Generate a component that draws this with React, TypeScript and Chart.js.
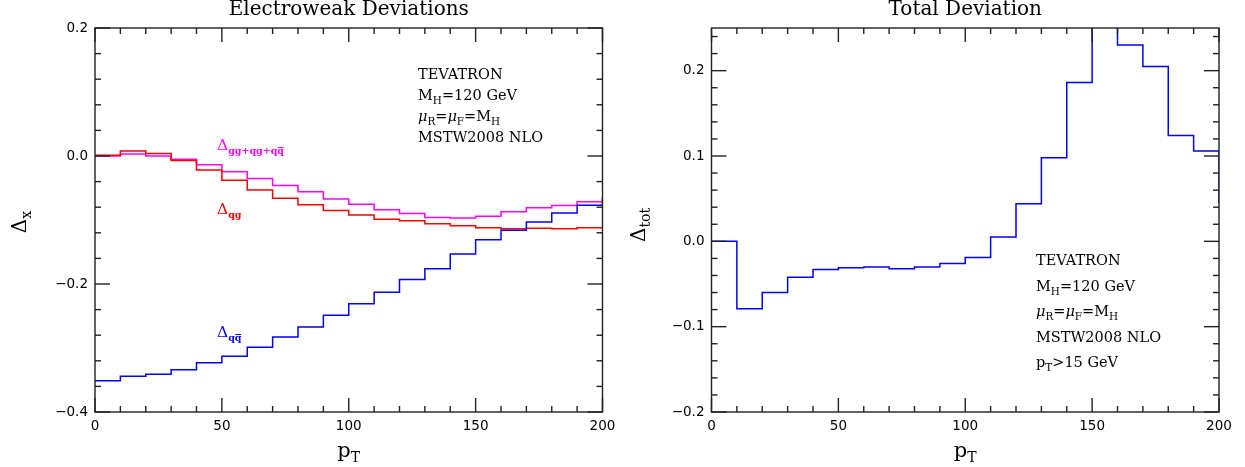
import React, { useEffect, useRef } from 'react';
import { Chart, registerables } from 'chart.js';

Chart.register(...registerables);

// ---- data (bin left edges in GeV; last entry = overflow bin 200-210, clipped) ----
const binStarts = [0, 10, 20, 30, 40, 50, 60, 70, 80, 90, 100, 110, 120, 130, 140, 150, 160, 170, 180, 190, 200];

const ewQQbar = [-0.351, -0.344, -0.341, -0.334, -0.323, -0.313, -0.299, -0.283, -0.267, -0.249, -0.231, -0.213, -0.193, -0.176, -0.153, -0.131, -0.116, -0.103, -0.089, -0.077, -0.064];
const ewQG = [0.001, 0.008, 0.004, -0.007, -0.022, -0.038, -0.053, -0.066, -0.076, -0.085, -0.092, -0.099, -0.101, -0.106, -0.109, -0.112, -0.1135, -0.113, -0.1135, -0.112, -0.112];
const ewAll = [0.0, 0.003, 0.0, -0.005, -0.0135, -0.0245, -0.035, -0.046, -0.056, -0.067, -0.0755, -0.084, -0.09, -0.096, -0.097, -0.094, -0.087, -0.081, -0.0775, -0.0714, -0.066];
const totDev = [0.0, -0.079, -0.06, -0.042, -0.033, -0.031, -0.03, -0.032, -0.03, -0.026, -0.019, 0.005, 0.044, 0.098, 0.186, 0.27, 0.23, 0.205, 0.124, 0.106, 0.045];

const xTicks = [0, 50, 100, 150, 200];
const leftYTicks = [-0.4, -0.2, 0.0, 0.2];
const rightYTicks = [-0.2, -0.1, 0.0, 0.1, 0.2];

const infoLines = ['TEVATRON', 'MH=120 GeV', 'μR=μF=MH', 'MSTW2008 NLO', 'pT>15 GeV'];

const SERIF = '"DejaVu Serif", serif';
const SANS = '"DejaVu Sans", sans-serif';

type Part = { t: string; size: number; dy?: number; bold?: boolean; italic?: boolean; bar?: boolean };

function fontOf(p: Part) {
  return `${p.italic ? 'italic ' : ''}${p.bold ? 'bold ' : ''}${p.size}px ${SERIF}`;
}

function drawRich(ctx: CanvasRenderingContext2D, parts: Part[], x: number, y: number, color: string, align: 'left' | 'center' = 'left') {
  let w = 0;
  for (const p of parts) {
    ctx.font = fontOf(p);
    w += ctx.measureText(p.t).width;
  }
  let cx = align === 'center' ? x - w / 2 : x;
  ctx.fillStyle = color;
  ctx.strokeStyle = color;
  ctx.textAlign = 'left';
  ctx.textBaseline = 'alphabetic';
  for (const p of parts) {
    ctx.font = fontOf(p);
    const py = y + (p.dy || 0);
    ctx.fillText(p.t, cx, py);
    const pw = ctx.measureText(p.t).width;
    if (p.bar) {
      ctx.lineWidth = 1;
      ctx.beginPath();
      const by = py - p.size * 0.68;
      ctx.moveTo(cx + 0.5, by);
      ctx.lineTo(cx + pw - 0.5, by);
      ctx.stroke();
    }
    cx += pw;
  }
}

// rich versions of info lines
function infoParts(line: string, size: number): Part[] {
  const s = size * 0.72;
  const d = size * 0.3;
  switch (line) {
    case 'MH=120 GeV':
      return [{ t: 'M', size }, { t: 'H', size: s, dy: d }, { t: '=120 GeV', size }];
    case 'μR=μF=MH':
      return [{ t: 'μ', size, italic: true }, { t: 'R', size: s, dy: d }, { t: '=', size }, { t: 'μ', size, italic: true }, { t: 'F', size: s, dy: d }, { t: '=M', size }, { t: 'H', size: s, dy: d }];
    case 'pT>15 GeV':
      return [{ t: 'p', size }, { t: 'T', size: s, dy: d }, { t: '>15 GeV', size }];
    default:
      return [{ t: line, size }];
  }
}

const decor = {
  id: 'decor',
  afterDraw(chart: any, _args: any, o: any) {
    const ctx: CanvasRenderingContext2D = chart.ctx;
    const { left, right, top, bottom } = chart.chartArea;
    const xs = chart.scales.x;
    const ys = chart.scales.y;
    ctx.save();
    ctx.strokeStyle = '#222';
    ctx.lineWidth = 1.4;
    ctx.strokeRect(left, top, right - left, bottom - top);
    const seg = (x1: number, y1: number, x2: number, y2: number) => {
      ctx.beginPath();
      ctx.moveTo(x1, y1);
      ctx.lineTo(x2, y2);
      ctx.stroke();
    };
    const isMajor = (v: number, m: number) => Math.abs(v / m - Math.round(v / m)) < 1e-6;
    // x ticks
    for (let i = 0; ; i++) {
      const v = xs.min + i * o.xMinor;
      if (v > xs.max + 1e-9) break;
      const px = xs.getPixelForValue(v);
      const len = isMajor(v, o.xMajor) ? 14 : 6;
      seg(px, bottom, px, bottom - len);
      seg(px, top, px, top + len);
    }
    // y ticks
    const start = Math.ceil(ys.min / o.yMinor - 1e-6);
    for (let k = start; ; k++) {
      const v = k * o.yMinor;
      if (v > ys.max + 1e-9) break;
      const py = ys.getPixelForValue(v);
      const len = isMajor(v, o.yMajor) ? 15 : 6;
      seg(left, py, left + len, py);
      seg(right, py, right - len, py);
    }
    ctx.restore();

    ctx.save();
    // title
    ctx.font = `20px ${SERIF}`;
    ctx.fillStyle = '#000';
    ctx.textAlign = 'center';
    ctx.textBaseline = 'alphabetic';
    ctx.fillText(o.title, (left + right) / 2, 15);
    // x axis label p_T
    drawRich(ctx, [{ t: 'p', size: 21 }, { t: 'T', size: 14, dy: 5 }], (left + right) / 2, 457, '#000', 'center');
    // y axis label
    ctx.save();
    ctx.translate(o.yLabelX, o.yLabelY);
    ctx.rotate(-Math.PI / 2);
    drawRich(ctx, [{ t: 'Δ', size: 20 }, { t: o.yLabelSub, size: 14, dy: 5 }], 0, 0, '#000', 'center');
    ctx.restore();
    // info block
    o.info.forEach((line: string, i: number) => {
      drawRich(ctx, infoParts(line, 14.5), o.infoX, o.infoY + i * o.infoDy, '#000');
    });
    // curve labels
    (o.curveLabels || []).forEach((c: any) => {
      drawRich(ctx, c.parts, c.x, c.y, c.color);
    });
    ctx.restore();
  },
};

function fmt(v: number) {
  const s = Math.abs(v) < 1e-9 ? '0.0' : Math.abs(v).toFixed(1);
  return v < -1e-9 ? '\u2212' + s : s;
}

function makeOptions(cfg: any) {
  return {
    responsive: false,
    animation: false,
    layout: { padding: { left: 0, top: 28, right: cfg.padRight, bottom: 0 } },
    plugins: {
      legend: { display: false },
      tooltip: { enabled: false },
      title: { display: false },
      decor: cfg.decor,
    },
    elements: { point: { radius: 0 }, line: { tension: 0 } },
    scales: {
      x: {
        type: 'linear',
        min: 0,
        max: 200,
        grid: { display: false, drawTicks: false },
        border: { display: false },
        afterBuildTicks: (s: any) => {
          s.ticks = xTicks.map((v) => ({ value: v }));
        },
        afterFit: (s: any) => {
          s.height = 55;
        },
        ticks: {
          padding: 6,
          color: '#000',
          font: { family: SANS, size: 13.5 },
          maxRotation: 0,
          callback: (v: any) => String(v),
        },
      },
      y: {
        type: 'linear',
        min: cfg.yMin,
        max: cfg.yMax,
        grid: { display: false, drawTicks: false },
        border: { display: false },
        afterBuildTicks: (s: any) => {
          s.ticks = cfg.yTicks.map((v: number) => ({ value: v }));
        },
        afterFit: (s: any) => {
          s.width = cfg.yWidth;
        },
        ticks: {
          padding: 7,
          color: '#000',
          font: { family: SANS, size: 13.5 },
          callback: (v: any) => fmt(Number(v)),
        },
      },
    },
  };
}

function series(vals: number[]) {
  return binStarts.map((x, i) => ({ x, y: vals[i] }));
}

function ds(vals: number[], color: string) {
  return {
    data: series(vals),
    borderColor: color,
    backgroundColor: color,
    borderWidth: 1.5,
    stepped: 'before',
    fill: false,
    pointRadius: 0,
  };
}

const sub = (t: string, bar = false): Part => ({ t, size: 9.5, dy: 4, bold: true, bar });

export default function App() {
  const leftRef = useRef<HTMLCanvasElement>(null);
  const rightRef = useRef<HTMLCanvasElement>(null);

  useEffect(() => {
    const left = new Chart(leftRef.current as HTMLCanvasElement, {
      type: 'line',
      data: {
        datasets: [ds(ewQQbar, '#0000ff'), ds(ewQG, '#ff0000'), ds(ewAll, '#ff00ff')] as any,
      },
      options: makeOptions({
        padRight: 640 - 602.5,
        yMin: -0.4,
        yMax: 0.2,
        yTicks: leftYTicks,
        yWidth: 95,
        decor: {
          title: 'Electroweak Deviations',
          xMinor: 10,
          xMajor: 50,
          yMinor: 0.04,
          yMajor: 0.2,
          yLabelX: 26,
          yLabelY: 222,
          yLabelSub: 'x',
          info: infoLines.slice(0, 4),
          infoX: 418,
          infoY: 79,
          infoDy: 21,
          curveLabels: [
            { x: 217, y: 150, color: '#ff00ff', parts: [{ t: 'Δ', size: 15.5 }, sub('gg+qg+q'), sub('q', true)] },
            { x: 217, y: 214, color: '#ff0000', parts: [{ t: 'Δ', size: 15.5 }, sub('qg')] },
            { x: 217, y: 337, color: '#0000ff', parts: [{ t: 'Δ', size: 15.5 }, sub('q'), sub('q', true)] },
          ],
        },
      }) as any,
      plugins: [decor as any],
    });

    const right = new Chart(rightRef.current as HTMLCanvasElement, {
      type: 'line',
      data: {
        datasets: [ds(totDev, '#0000ff')] as any,
      },
      options: makeOptions({
        padRight: 625 - (1219 - 620),
        yMin: -0.2,
        yMax: 0.25,
        yTicks: rightYTicks,
        yWidth: 711.5 - 620,
        decor: {
          title: 'Total Deviation',
          xMinor: 10,
          xMajor: 50,
          yMinor: 0.02,
          yMajor: 0.1,
          yLabelX: 25,
          yLabelY: 225,
          yLabelSub: 'tot',
          info: infoLines,
          infoX: 1036 - 620,
          infoY: 265,
          infoDy: 25.5,
          curveLabels: [],
        },
      }) as any,
      plugins: [decor as any],
    });

    return () => {
      left.destroy();
      right.destroy();
    };
  }, []);

  return (
    <div style={{ position: 'fixed', left: 0, top: 0, width: 1245, height: 467, background: '#fff' }}>
      <canvas ref={leftRef} width={640} height={467} style={{ position: 'absolute', left: 0, top: 0 }} />
      <canvas ref={rightRef} width={625} height={467} style={{ position: 'absolute', left: 620, top: 0 }} />
    </div>
  );
}
